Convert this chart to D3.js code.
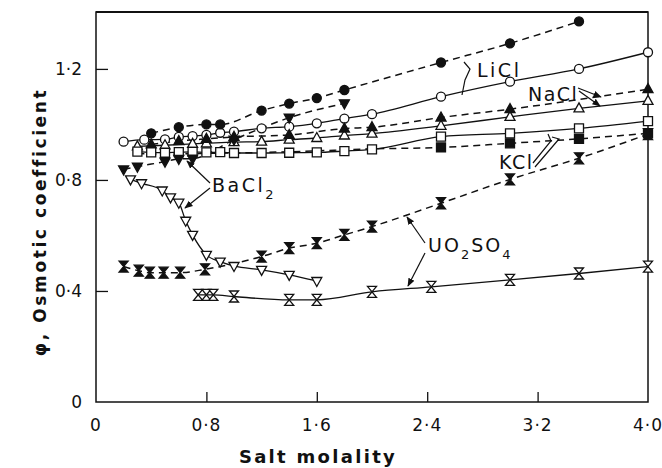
<!DOCTYPE html>
<html><head><meta charset="utf-8">
<script src="https://cdn.jsdelivr.net/npm/d3@7"></script>
<style>
body{margin:0;background:#fff}
svg{display:block}
text{font-family:"DejaVu Sans",sans-serif;fill:#111}
</style>
</head><body>
<svg id="c" width="662" height="468"></svg>
<script>
// ---- tick labels ----
const xTicks=[0,0.8,1.6,2.4,3.2,4.0];
const xTickLabels=["0","0·8","1·6","2·4","3·2","4·0"];
const yTicks=[0,0.4,0.8,1.2];
const yTickLabels=["0","0·4","0·8","1·2"];

// ---- data (molality, osmotic coefficient) ----
const liclOpenX=[0.2,0.35,0.5,0.6,0.7,0.8,0.9,1.0,1.2,1.4,1.6,1.8,2.0,2.5,3.0,3.5,4.0];
const liclOpenY=[0.938,0.945,0.946,0.955,0.958,0.962,0.970,0.974,0.986,0.992,1.004,1.021,1.037,1.100,1.154,1.200,1.260];
const liclFilledX=[0.4,0.6,0.8,0.9,1.2,1.4,1.6,1.8,2.5,3.0,3.5];
const liclFilledY=[0.968,0.990,1.000,1.000,1.050,1.075,1.095,1.124,1.223,1.292,1.371];

const naclOpenX=[0.3,0.5,0.7,0.8,1.0,1.2,1.4,1.6,1.8,2.0,2.5,3.0,3.5,4.0];
const naclOpenY=[0.921,0.925,0.930,0.932,0.936,0.938,0.945,0.951,0.960,0.967,0.995,1.027,1.058,1.085];
const naclFilledX=[0.4,0.6,0.8,1.0,1.4,1.8,2.0,2.5,3.0,4.0];
const naclFilledY=[0.928,0.940,0.948,0.955,0.962,0.985,0.990,1.025,1.055,1.127];

const kclOpenX=[0.3,0.4,0.5,0.6,0.7,0.8,0.9,1.0,1.2,1.4,1.6,1.8,2.0,2.5,3.0,3.5,4.0];
const kclOpenY=[0.902,0.899,0.898,0.900,0.901,0.899,0.900,0.897,0.897,0.898,0.899,0.904,0.910,0.956,0.968,0.986,1.012];
const kclFilledX=[0.3,0.5,0.7,1.0,1.5,2.0,2.5,3.0,3.5,4.0];
const kclFilledY=[0.895,0.893,0.895,0.897,0.903,0.912,0.917,0.932,0.948,0.968];

const bacl2OpenX=[0.25,0.33,0.48,0.54,0.6,0.65,0.7,0.8,0.9,1.0,1.2,1.4,1.6];
const bacl2OpenY=[0.802,0.788,0.762,0.737,0.718,0.653,0.602,0.530,0.506,0.490,0.476,0.458,0.436];
const bacl2FilledX=[0.2,0.3,0.5,0.6,0.7,1.0,1.4,1.8];
const bacl2FilledY=[0.838,0.848,0.866,0.876,0.877,0.945,1.024,1.076];

const uo2so4FilledX=[0.2,0.31,0.39,0.49,0.61,0.79,1.2,1.4,1.6,1.8,2.0,2.5,3.0,3.5,4.0];
const uo2so4FilledY=[0.488,0.473,0.466,0.466,0.466,0.478,0.524,0.554,0.572,0.602,0.632,0.716,0.802,0.878,0.965];
const uo2so4OpenX=[0.74,0.8,0.85,1.0,1.4,1.6,2.0,2.43,3.0,3.5,4.0];
const uo2so4OpenY=[0.386,0.386,0.386,0.380,0.368,0.368,0.397,0.415,0.440,0.463,0.488];

// markFrom: symbols hidden below this molality (they sit under other symbols in the original)
const series=[
  {x:liclOpenX,y:liclOpenY,shape:"circle",filled:false,dashed:false},
  {x:liclFilledX,y:liclFilledY,shape:"circle",filled:true,dashed:true},
  {x:naclOpenX,y:naclOpenY,shape:"triUp",filled:false,dashed:false},
  {x:naclFilledX,y:naclFilledY,shape:"triUp",filled:true,dashed:true},
  {x:kclOpenX,y:kclOpenY,shape:"square",filled:false,dashed:false},
  {x:kclFilledX,y:kclFilledY,shape:"square",filled:true,dashed:true,markFrom:2.4},
  {x:bacl2OpenX,y:bacl2OpenY,shape:"triDown",filled:false,dashed:false},
  {x:bacl2FilledX,y:bacl2FilledY,shape:"triDown",filled:true,dashed:true},
  {x:uo2so4FilledX,y:uo2so4FilledY,shape:"hour",filled:true,dashed:true},
  {x:uo2so4OpenX,y:uo2so4OpenY,shape:"hour",filled:false,dashed:false}
];

const svg=d3.select("#c");
const L=96,R=648,T=12,B=402;
const x=d3.scaleLinear().domain([0,4.0]).range([L,R]);
const y=d3.scaleLinear().domain([0,1.405]).range([B,T]);

// frame
svg.append("rect").attr("x",L).attr("y",T).attr("width",R-L).attr("height",B-T)
  .attr("fill","none").attr("stroke","#111").attr("stroke-width",1.5);
svg.append("line").attr("x1",L).attr("x2",R).attr("y1",T).attr("y2",T).attr("stroke","#111").attr("stroke-width",2.2);

// axes (inward ticks)
const xAxis=d3.axisTop(x).tickValues(xTicks.slice(1,-1)).tickSize(10).tickFormat("");
svg.append("g").attr("transform",`translate(0,${B})`).call(xAxis)
  .call(g=>{g.select(".domain").remove();g.selectAll("line").attr("stroke","#111").attr("stroke-width",1.3);});
const yAxis=d3.axisRight(y).tickValues(yTicks.slice(1)).tickSize(12).tickFormat("");
svg.append("g").attr("transform",`translate(${L},0)`).call(yAxis)
  .call(g=>{g.select(".domain").remove();g.selectAll("line").attr("stroke","#111").attr("stroke-width",1.3);});

// tick labels
svg.append("g").selectAll("text").data(xTicks).join("text")
  .attr("x",d=>x(d)).attr("y",431).attr("text-anchor","middle")
  .attr("font-size",17).attr("letter-spacing",1)
  .text((d,i)=>xTickLabels[i]);
svg.append("g").selectAll("text").data(yTicks).join("text")
  .attr("x",82).attr("y",d=>y(d)+6).attr("text-anchor","end")
  .attr("font-size",17)
  .text((d,i)=>yTickLabels[i]);

// axis titles
svg.append("text").attr("x",318).attr("y",463).attr("text-anchor","middle")
  .attr("font-size",18).attr("letter-spacing",2.3).attr("font-weight","bold")
  .text("Salt molality");
svg.append("text").attr("transform","translate(46,222) rotate(-90)").attr("text-anchor","middle")
  .attr("font-size",17).attr("letter-spacing",2.6).attr("font-weight","bold")
  .text("φ, Osmotic coefficient");

// lines
const line=d3.line().curve(d3.curveMonotoneX).x(d=>x(d[0])).y(d=>y(d[1]));
const lineG=svg.append("g");
series.forEach(s=>{
  const pts=s.x.map((v,i)=>[v,s.y[i]]);
  lineG.append("path").attr("d",line(pts)).attr("fill","none").attr("stroke","#111")
    .attr("stroke-width",s.dashed?1.5:1.3).attr("stroke-dasharray",s.dashed?"7,5":null);
});

// markers
function shapePath(shape){
  switch(shape){
    case "circle": return d3.symbol(d3.symbolCircle,64)();
    case "triUp": return "M0,-5.5L5,3.5L-5,3.5Z";
    case "triDown": return "M0,5.5L5,-3.5L-5,-3.5Z";
    case "square": return "M-4.5,-4.5H4.5V4.5H-4.5Z";
    case "hour": return "M-4.5,-5.5H4.5L0,0ZM0,0L4.5,5.5H-4.5Z";
  }
}
const mG=svg.append("g");
series.forEach(s=>{
  const pts=s.x.map((v,i)=>[v,s.y[i]]).filter(d=>s.markFrom==null||d[0]>=s.markFrom);
  mG.append("g").selectAll("path").data(pts).join("path")
    .attr("transform",d=>`translate(${x(d[0])},${y(d[1])})`)
    .attr("d",shapePath(s.shape))
    .attr("fill",s.filled?"#111":"#fff").attr("stroke","#111").attr("stroke-width",1.3);
});

// annotations
const defs=svg.append("defs");
defs.append("marker").attr("id","ah").attr("viewBox","0 0 10 10").attr("refX",9).attr("refY",5)
  .attr("markerWidth",7).attr("markerHeight",7).attr("orient","auto")
  .append("path").attr("d","M0,1L10,5L0,9Z").attr("fill","#111");
const ann=svg.append("g").attr("fill","none").attr("stroke","#111").attr("stroke-width",1.2);
ann.append("path").attr("d","M464,62 L470,69 L465,80 L462,95");
ann.append("path").attr("d","M578,88 L601,97").attr("marker-end","url(#ah)");
ann.append("path").attr("d","M579,91 L600,106").attr("marker-end","url(#ah)");
ann.append("path").attr("d","M533,163 L551,141 L548,134");
ann.append("path").attr("d","M535,167 L559,139 L552,137");
ann.append("path").attr("d","M210,183 L187,161").attr("marker-end","url(#ah)");
ann.append("path").attr("d","M210,188 L185,208").attr("marker-end","url(#ah)");
ann.append("path").attr("d","M425,243 L407,217").attr("marker-end","url(#ah)");
ann.append("path").attr("d","M425,253 L408,286").attr("marker-end","url(#ah)");

const lab=svg.append("g").attr("font-size",19);
lab.append("text").attr("x",477).attr("y",77).attr("letter-spacing",2.5).text("LiCl");
lab.append("text").attr("x",528).attr("y",101).attr("letter-spacing",1.5).text("NaCl");
lab.append("text").attr("x",499).attr("y",169).attr("letter-spacing",1.5).text("KCl");
const ba=lab.append("text").attr("x",212).attr("y",192).attr("letter-spacing",2.5);
ba.append("tspan").text("BaCl");
ba.append("tspan").attr("dy",7).attr("font-size",13).text("2");
const uo=lab.append("text").attr("x",428).attr("y",252).attr("letter-spacing",2);
uo.append("tspan").text("UO");
uo.append("tspan").attr("dy",7).attr("font-size",13).text("2");
uo.append("tspan").attr("dy",-7).text("SO");
uo.append("tspan").attr("dy",7).attr("font-size",13).text("4");
</script>
</body></html>
